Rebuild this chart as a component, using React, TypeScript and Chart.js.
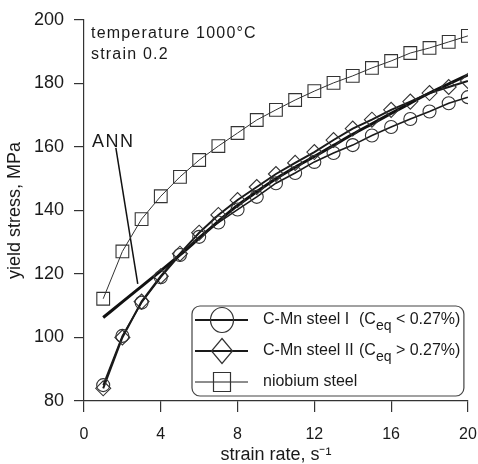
import React, { useEffect, useRef } from "react";
import { Chart, registerables } from "chart.js";

Chart.register(...registerables);

// ---- data ----
const strainRate = [1, 2, 3, 4, 5, 6, 7, 8, 9, 10, 11, 12, 13, 14, 15, 16, 17, 18, 19, 20];
const cmnSteel1 = [85, 100.5, 111, 119, 126, 131.7, 136.2, 140.3, 144.3, 148.6, 151.8, 155.3, 158.1, 160.6, 163.6, 166.3, 168.8, 171.2, 173.8, 175.7];
const cmnSteel2 = [84, 100, 111.3, 119.3, 126.4, 133, 138.6, 143.3, 147.4, 151.5, 155, 158.4, 162.2, 165.8, 168.6, 171.7, 174.3, 177, 178.9, 180.8];
const niobiumSteel = [112.2, 127.1, 137.3, 144.5, 150.6, 155.9, 160.3, 164.4, 168.5, 171.7, 174.8, 177.6, 180.2, 182.4, 184.9, 187.1, 189.6, 191.2, 193.1, 195.0];
const annCurve = [106.3, 111.2, 116.1, 121.0, 126.0, 131.3, 136.6, 141.6, 145.9, 150.0, 153.6, 157.0, 160.5, 164.0, 167.3, 170.6, 173.8, 177.0, 179.9, 182.7];
const annPointerX = [1.66, 2.8];
const annPointerY = [159.7, 116.9];

const xTicks = [0, 4, 8, 12, 16, 20];
const yTicks = [80, 100, 120, 140, 160, 180, 200];

const xTitle = "strain rate, s\u207B\u00B9";
const yTitle = "yield stress, MPa";
const noteLines = ["temperature 1000\u00B0C", "strain 0.2"];
const annLabel = "ANN";
const legendNames = ["C-Mn steel I", "C-Mn steel II", "niobium steel"];
const legendConds = ["< 0.27%)", "> 0.27%)"];

const FONT = '"Liberation Sans", Arial, sans-serif';
const INK = "#1a1a1a";

const overlayPlugin = {
  id: "overlay",
  afterDatasetsDraw(chart: any) {
    const { ctx, chartArea } = chart;
    const L = chartArea.left;
    const R = chartArea.right;
    const T = chartArea.top;
    const B = chartArea.bottom;
    ctx.save();
    ctx.fillStyle = INK;
    ctx.textAlign = "left";
    ctx.textBaseline = "alphabetic";
    // notes
    ctx.font = `16px ${FONT}`;
    (ctx as any).letterSpacing = "1.2px";
    ctx.fillText(noteLines[0], L + 7, T + 17.5);
    ctx.fillText(noteLines[1], L + 7, T + 39);
    // ANN label
    ctx.font = `18px ${FONT}`;
    (ctx as any).letterSpacing = "1.5px";
    ctx.fillText(annLabel, L + 8, T + 127);
    (ctx as any).letterSpacing = "0px";

    // legend box
    const bx = L + 108;
    const by = B - 95;
    const bw = R - 4 - bx;
    const bh = 90;
    ctx.beginPath();
    (ctx as any).roundRect(bx, by, bw, bh, 8);
    ctx.fillStyle = "#ffffff";
    ctx.fill();
    ctx.strokeStyle = "#444";
    ctx.lineWidth = 1.2;
    ctx.stroke();

    const rows = [B - 81, B - 50, B - 19];
    const lx0 = bx + 3;
    const lx1 = bx + 56;
    const mx = bx + 30;
    const widths = [1.8, 2.2, 1];
    rows.forEach((ry, i) => {
      ctx.strokeStyle = INK;
      ctx.lineWidth = widths[i];
      ctx.beginPath();
      ctx.moveTo(lx0, ry);
      ctx.lineTo(lx1, ry);
      ctx.stroke();
      ctx.lineWidth = 1.2;
      ctx.strokeStyle = "#333";
      ctx.beginPath();
      if (i === 0) {
        ctx.ellipse(mx, ry, 11.5, 12.5, 0, 0, Math.PI * 2);
      } else if (i === 1) {
        ctx.moveTo(mx, ry - 12.5);
        ctx.lineTo(mx + 10.5, ry);
        ctx.lineTo(mx, ry + 12.5);
        ctx.lineTo(mx - 10.5, ry);
        ctx.closePath();
      } else {
        ctx.rect(mx - 8.5, ry - 9.5, 17, 19);
      }
      ctx.stroke();
    });

    ctx.fillStyle = INK;
    ctx.textBaseline = "middle";
    const tx = bx + 71;
    const cx = bx + 167;
    rows.forEach((ry, i) => {
      ctx.font = `16px ${FONT}`;
      ctx.fillText(legendNames[i], tx, ry);
      if (i < 2) {
        ctx.fillText("(C", cx, ry);
        const w1 = ctx.measureText("(C").width;
        ctx.font = `14px ${FONT}`;
        ctx.fillText("eq", cx + w1, ry + 6);
        const w2 = ctx.measureText("eq").width;
        ctx.font = `16px ${FONT}`;
        ctx.fillText(" " + legendConds[i], cx + w1 + w2, ry);
      }
    });
    ctx.restore();
  },
};

export default function App() {
  const ref = useRef<HTMLCanvasElement>(null);

  useEffect(() => {
    if (!ref.current) return;
    const pts = (ys: number[]) => strainRate.map((x, i) => ({ x, y: ys[i] }));
    const chart = new Chart(ref.current, {
      type: "line",
      data: {
        datasets: [
          {
            label: "niobium steel",
            data: pts(niobiumSteel),
            borderColor: "#333",
            borderWidth: 1,
            pointStyle: "rect",
            pointRadius: 9,
            pointBorderWidth: 1.1,
            pointBorderColor: "#333",
            pointBackgroundColor: "rgba(0,0,0,0)",
            backgroundColor: "rgba(0,0,0,0)",
          },
          {
            label: "C-Mn steel I",
            data: pts(cmnSteel1),
            borderColor: INK,
            borderWidth: 1.6,
            pointStyle: "circle",
            pointRadius: 6.5,
            pointBorderWidth: 1.1,
            pointBorderColor: "#333",
            pointBackgroundColor: "rgba(0,0,0,0)",
            backgroundColor: "rgba(0,0,0,0)",
          },
          {
            label: "C-Mn steel II",
            data: pts(cmnSteel2),
            borderColor: INK,
            borderWidth: 2,
            pointStyle: "rectRot",
            pointRadius: 7.5,
            pointBorderWidth: 1.1,
            pointBorderColor: "#333",
            pointBackgroundColor: "rgba(0,0,0,0)",
            backgroundColor: "rgba(0,0,0,0)",
          },
          {
            label: "ANN",
            data: pts(annCurve),
            borderColor: "#111",
            borderWidth: 3,
            pointRadius: 0,
            cubicInterpolationMode: "monotone",
            backgroundColor: "rgba(0,0,0,0)",
          },
          {
            label: "ANN pointer",
            data: annPointerX.map((x, i) => ({ x, y: annPointerY[i] })),
            borderColor: "#111",
            borderWidth: 1.5,
            pointRadius: 0,
            backgroundColor: "rgba(0,0,0,0)",
          },
        ],
      },
      options: {
        animation: false,
        responsive: false,
        maintainAspectRatio: false,
        layout: { padding: { top: 20, right: 0, left: 0, bottom: 0 } },
        plugins: {
          legend: { display: false },
          tooltip: { enabled: false },
        },
        scales: {
          x: {
            type: "linear",
            min: 0,
            max: 20,
            afterBuildTicks: (s: any) => {
              s.ticks = xTicks.map((v) => ({ value: v }));
            },
            afterFit: (s: any) => {
              s.height = 63;
              s.paddingLeft = 0;
              s.paddingRight = 9;
            },
            grid: { drawOnChartArea: false, drawTicks: true, tickLength: 11, color: "#333", lineWidth: 1.2 },
            border: { display: true, color: "#333", width: 1.2 },
            ticks: { color: INK, font: { family: FONT, size: 16 }, padding: 13, maxRotation: 0 },
            title: { display: true, text: xTitle, color: INK, font: { family: FONT, size: 18 }, padding: { top: 0, bottom: -2 } },
          },
          y: {
            type: "linear",
            min: 80,
            max: 200,
            afterBuildTicks: (s: any) => {
              s.ticks = yTicks.map((v) => ({ value: v }));
            },
            afterFit: (s: any) => {
              s.width = 84;
              s.paddingTop = 0;
              s.paddingBottom = 0;
            },
            grid: { drawOnChartArea: false, drawTicks: true, tickLength: 10, color: "#333", lineWidth: 1.2 },
            border: { display: true, color: "#333", width: 1.2 },
            ticks: { color: INK, font: { family: FONT, size: 18 }, padding: 10 },
            title: { display: true, text: yTitle, color: INK, font: { family: FONT, size: 18 }, padding: { top: 4, bottom: 0 } },
          },
        },
      },
      plugins: [overlayPlugin],
    } as any);
    return () => chart.destroy();
  }, []);

  return (
    <div style={{ position: "absolute", left: 0, top: 0, width: 478, height: 464, background: "#fff" }}>
      <canvas ref={ref} width={478} height={464} style={{ display: "block" }} />
    </div>
  );
}
